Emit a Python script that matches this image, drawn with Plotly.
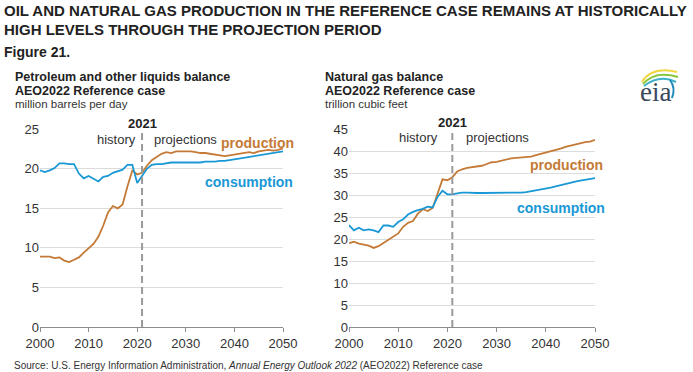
import plotly.graph_objects as go

W, H = 693, 372

years = list(range(2000, 2051))

oil_production = [8.9, 8.9, 8.9, 8.7, 8.8, 8.4, 8.2, 8.5, 8.8, 9.4, 9.9, 10.5, 11.4, 12.8, 14.5, 15.3,
                  15.0, 15.5, 17.8, 19.8, 19.3, 19.5, 20.4, 21.1, 21.5, 21.9, 22.1, 22.0, 22.2, 22.2,
                  22.2, 22.2, 22.1, 22.0, 22.0, 21.9, 21.8, 21.7, 21.6, 21.7, 21.8, 21.9, 22.0, 22.1,
                  22.0, 22.2, 22.3, 22.4, 22.3, 22.4, 22.6]
oil_consumption = [19.8, 19.6, 19.8, 20.1, 20.7, 20.7, 20.6, 20.6, 19.4, 18.8, 19.1, 18.8, 18.4, 19.0,
                   19.1, 19.5, 19.7, 19.9, 20.5, 20.5, 18.2, 19.1, 20.0, 20.5, 20.6, 20.6, 20.7, 20.8,
                   20.8, 20.8, 20.8, 20.8, 20.8, 20.8, 20.9, 20.9, 20.9, 21.0, 21.0, 21.1, 21.2, 21.3,
                   21.4, 21.5, 21.6, 21.7, 21.8, 21.9, 22.0, 22.1, 22.2]

gas_production = [19.1, 19.4, 19.0, 18.8, 18.5, 18.0, 18.4, 19.1, 19.9, 20.5, 21.3, 22.8, 23.7, 24.1,
                  25.8, 26.8, 26.4, 27.1, 30.4, 33.6, 33.4, 34.1, 35.4, 35.9, 36.2, 36.4, 36.5, 36.7,
                  37.1, 37.5, 37.6, 37.9, 38.2, 38.4, 38.5, 38.6, 38.6, 38.8, 39.1, 39.4, 39.7, 39.9,
                  40.2, 40.6, 41.0, 41.3, 41.6, 41.9, 42.1, 42.2, 42.6]
gas_consumption = [23.2, 22.0, 22.6, 22.0, 22.2, 22.0, 21.6, 23.1, 23.1, 22.8, 23.9, 24.5, 25.6, 26.2,
                   26.6, 26.9, 27.4, 27.2, 29.6, 31.0, 30.2, 30.2, 30.4, 30.6, 30.6, 30.5, 30.5, 30.5,
                   30.5, 30.6, 30.6, 30.5, 30.5, 30.5, 30.6, 30.6, 30.7, 30.9, 31.1, 31.2, 31.5, 31.7,
                   32.0, 32.3, 32.6, 32.9, 33.1, 33.3, 33.5, 33.7, 33.9]

x_ticks = [2000, 2010, 2020, 2030, 2040, 2050]
oil_y_ticks = [0, 5, 10, 15, 20, 25]
gas_y_ticks = [0, 5, 10, 15, 20, 25, 30, 35, 40, 45]
divider_year = 2021

ORANGE = "#c47a36"
BLUE = "#1a98d5"
FONT = "Liberation Sans, Arial, sans-serif"


def fx(x):
    return x / W


def fy(y):
    return 1 - y / H


def px(x, y):
    return fx(x), fy(y)


fig = go.Figure()

fig.add_trace(go.Scatter(x=years, y=oil_production, mode="lines", line=dict(color=ORANGE, width=1.8),
                         xaxis="x", yaxis="y", showlegend=False, hoverinfo="skip"))
fig.add_trace(go.Scatter(x=years, y=oil_consumption, mode="lines", line=dict(color=BLUE, width=1.8),
                         xaxis="x", yaxis="y", showlegend=False, hoverinfo="skip"))
fig.add_trace(go.Scatter(x=years, y=gas_production, mode="lines", line=dict(color=ORANGE, width=1.8),
                         xaxis="x2", yaxis="y2", showlegend=False, hoverinfo="skip"))
fig.add_trace(go.Scatter(x=years, y=gas_consumption, mode="lines", line=dict(color=BLUE, width=1.8),
                         xaxis="x2", yaxis="y2", showlegend=False, hoverinfo="skip"))

ydom = [fy(327), fy(129.3)]

xcommon = dict(range=[2000, 2050], tickvals=x_ticks, showgrid=False, zeroline=False, automargin=False,
               showline=True, linecolor="#8c8c8c", linewidth=1, ticks="outside", ticklen=4,
               tickcolor="#8c8c8c", tickfont=dict(family=FONT, size=13, color="#333333"))
ycommon = dict(showgrid=True, gridcolor="#dcdcdc", gridwidth=1, zeroline=False, showline=False,
               automargin=False, ticks="", tickfont=dict(family=FONT, size=13, color="#333333"))

fig.update_layout(
    width=W, height=H,
    margin=dict(l=0, r=0, t=0, b=0, autoexpand=False),
    paper_bgcolor="white", plot_bgcolor="white",
    xaxis=dict(domain=[fx(40), fx(283)], anchor="y", **xcommon),
    yaxis=dict(domain=ydom, anchor="x", range=[0, 25], tickvals=oil_y_ticks, **ycommon),
    xaxis2=dict(domain=[fx(349), fx(595)], anchor="y2", **xcommon),
    yaxis2=dict(domain=ydom, anchor="x2", range=[0, 45], tickvals=gas_y_ticks, **ycommon),
    font=dict(family=FONT),
)

shapes = []
for xr, yr, top in (("x", "y", 25), ("x2", "y2", 45)):
    shapes.append(dict(type="line", xref=xr, yref=yr, x0=divider_year, x1=divider_year, y0=0, y1=top,
                       line=dict(color="#9a9a9a", width=2, dash="7px,4px")))


# eia logo swooshes
def swoosh(p0, c, p1, color, width):
    x0, y0 = px(*p0)
    cx, cy = px(*c)
    x1, y1 = px(*p1)
    return dict(type="path", xref="paper", yref="paper",
                path=f"M {x0},{y0} Q {cx},{cy} {x1},{y1}",
                line=dict(color=color, width=width))


shapes.append(swoosh((642, 82), (652, 66), (677, 72), "#f2d640", 2))
shapes.append(swoosh((643, 84), (655, 70), (678, 77), "#8cc63f", 2))
shapes.append(swoosh((644, 86), (660, 74), (676, 82), "#3fb0c9", 2))
shapes.append(swoosh((670, 80), (676, 88), (672, 98), "#1e88b8", 2))
fig.update_layout(shapes=shapes)

ann = []


def text(x, y, s, size=12, color="#222222", bold=False, xanchor="left", yanchor="middle", family=FONT):
    xp, yp = px(x, y)
    ann.append(dict(x=xp, y=yp, xref="paper", yref="paper", text=(f"<b>{s}</b>" if bold else s),
                    showarrow=False, xanchor=xanchor, yanchor=yanchor,
                    font=dict(family=family, size=size, color=color)))


text(2, 11, "OIL AND NATURAL GAS PRODUCTION IN THE REFERENCE CASE REMAINS AT HISTORICALLY", 15, "#222222", True)
text(2, 29, "HIGH LEVELS THROUGH THE PROJECTION PERIOD", 15, "#222222", True)
text(2, 52, "Figure 21.", 14, "#222222", True)

text(13, 77, "Petroleum and other liquids balance", 12.5, "#222222", True)
text(13, 91, "AEO2022 Reference case", 12.5, "#222222", True)
text(13, 104.5, "million barrels per day", 11.5, "#333333")

text(323, 77, "Natural gas balance", 12.5, "#222222", True)
text(323, 91, "AEO2022 Reference case", 12.5, "#222222", True)
text(323, 104.5, "trillion cubic feet", 11.5, "#333333")

text(655, 92, "eia", 27, "#3a4a5c", False, "center", "middle", "Liberation Serif, Times New Roman, serif")

# left chart labels
text(142, 124, "2021", 13, "#222222", True, "center")
text(116, 139, "history", 13, "#333333", False, "center")
text(152, 139, "projections", 13, "#333333", False, "left")
text(296, 143, "production", 14, ORANGE, True, "right")
text(295, 182, "consumption", 14, BLUE, True, "right")

# right chart labels
text(452, 123, "2021", 13, "#222222", True, "center")
text(418, 137, "history", 13, "#333333", False, "center")
text(464, 137, "projections", 13, "#333333", False, "left")
text(605, 165, "production", 14, ORANGE, True, "right")
text(607, 208, "consumption", 14, BLUE, True, "right")

text(12, 365, "Source: U.S. Energy Information Administration, <i>Annual Energy Outlook 2022</i> (AEO2022) Reference case",
     10, "#333333")

fig.update_layout(annotations=ann)

# remove the page's default body margin so the figure fills the window exactly
fig.write_html("out.html", config={"displayModeBar": False},
               post_script="document.body.style.margin='0';document.body.style.overflow='hidden';")
